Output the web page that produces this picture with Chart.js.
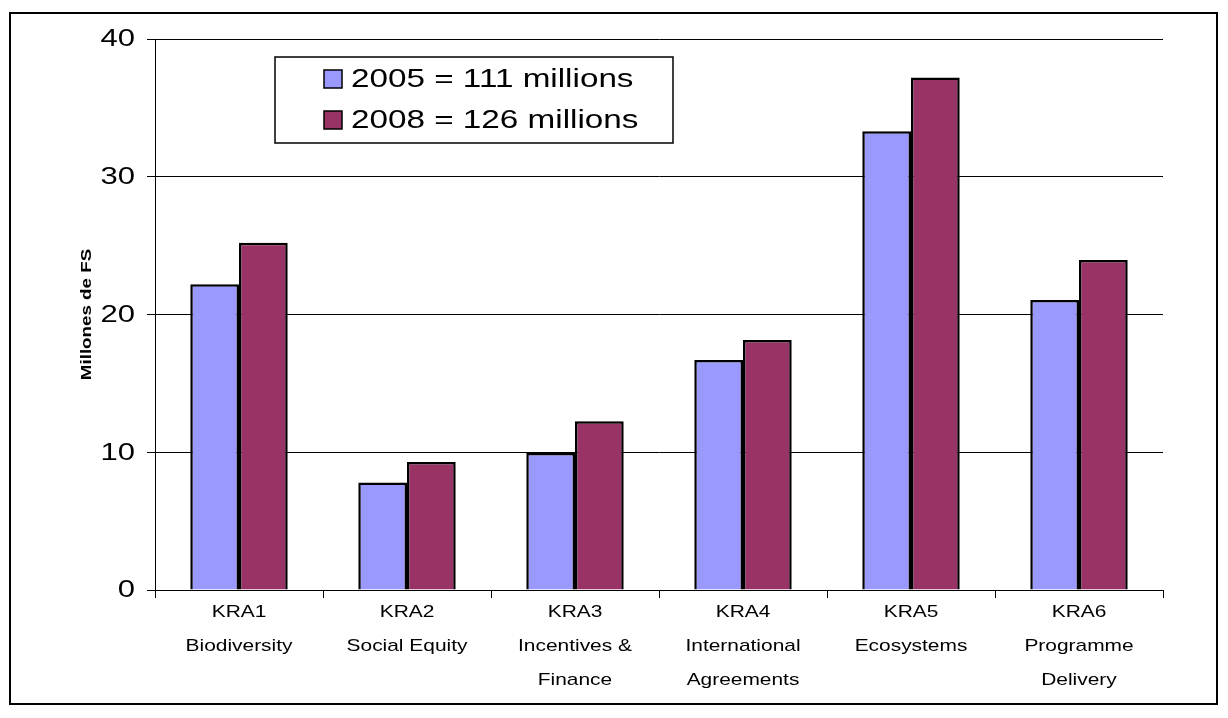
<!DOCTYPE html>
<html>
<head>
<meta charset="utf-8">
<script src="https://cdn.jsdelivr.net/npm/chart.js@4/dist/chart.umd.min.js"></script>
<style>
  body { margin: 0; background: #fff; }
  #wrap { position: absolute; left: 0; top: 0; width: 1228px; height: 718px; }
  #frame { position: absolute; left: 9px; top: 12px; width: 1209px; height: 693px; border: 2px solid #000; box-sizing: border-box; pointer-events: none; }
</style>
</head>
<body>
<div id="wrap">
  <canvas id="chart" width="1228" height="718"></canvas>
  <div id="frame"></div>
</div>
<script>
// data
var categories = [
  ['KRA1', 'Biodiversity'],
  ['KRA2', 'Social Equity'],
  ['KRA3', 'Incentives &', 'Finance'],
  ['KRA4', 'International', 'Agreements'],
  ['KRA5', 'Ecosystems'],
  ['KRA6', 'Programme', 'Delivery']
]
var series2005 = [22.2, 7.8, 9.95, 16.7, 33.3, 21.05]
var series2008 = [25.2, 9.3, 12.25, 18.15, 37.2, 23.95]
var seriesLabels = ['2005 = 111 millions', '2008 = 126 millions']
var yTicks = [0, 10, 20, 30, 40]
var yTitle = 'Millones de FS'

var font = '"Liberation Sans", Arial, sans-serif'

// the reference text is a bit wider than Arial, so stretch it sideways
function wideText(ctx, txt, x, y, align, stretch) {
  var w = ctx.measureText(txt).width * stretch
  var x0 = x
  if (align === 'center') x0 = x - w / 2
  if (align === 'right') x0 = x - w
  ctx.save()
  ctx.translate(x0, y)
  ctx.scale(stretch, 1)
  ctx.textAlign = 'left'
  ctx.fillText(txt, 0, 0)
  ctx.restore()
}

const textLayer = {
  id: 'textLayer',
  afterDraw: function(chart) {
    var ctx = chart.ctx
    var xs = chart.scales.x, ys = chart.scales.y
    ctx.save()
    ctx.fillStyle = '#000'
    ctx.textBaseline = 'middle'

    // y ticks
    ctx.font = '23px ' + font
    yTicks.forEach(function(v) {
      wideText(ctx, String(v), 135, ys.getPixelForValue(v) + 1, 'right', 1.35)
    })

    // x tick labels
    ctx.font = '17px ' + font
    categories.forEach(function(lines, i) {
      var cx = xs.getPixelForTick(i)
      lines.forEach(function(t, j) {
        wideText(ctx, t, cx, 612 + j * 34, 'center', 1.23)
      })
    })

    // y title
    ctx.font = 'bold 15px ' + font
    ctx.save()
    ctx.translate(87, (ys.top + ys.bottom) / 2)
    ctx.rotate(-Math.PI / 2)
    wideText(ctx, yTitle, 0, 0, 'center', 1.25)
    ctx.restore()

    // legend box
    var bx = 275, by = 57, bw = 398, bh = 86
    ctx.fillStyle = '#fff'
    ctx.fillRect(bx, by, bw, bh)
    ctx.strokeStyle = '#000'
    ctx.lineWidth = 1.5
    ctx.strokeRect(bx, by, bw, bh)
    ctx.font = '25px ' + font
    chart.data.datasets.forEach(function(ds, i) {
      var cy = by + 22 + i * 41
      ctx.fillStyle = ds.backgroundColor
      ctx.fillRect(324, cy - 9, 18, 18)
      ctx.strokeStyle = '#000'
      ctx.lineWidth = 1.5
      ctx.strokeRect(324, cy - 9, 18, 18)
      ctx.fillStyle = '#000'
      wideText(ctx, ds.label, 351, cy + 1, 'left', 1.33)
    })
    ctx.restore()
  }
}

const config = {
  type: 'bar',
  data: {
    labels: categories,
    datasets: [{
      label: seriesLabels[0],
      data: series2005,
      backgroundColor: '#9999FF',
      borderColor: '#000',
      borderWidth: 2.5
    }, {
      label: seriesLabels[1],
      data: series2008,
      backgroundColor: '#993366',
      borderColor: '#000',
      borderWidth: 2.5
    }]
  },
  options: {
    responsive: false,
    animation: false,
    events: [],
    layout: { padding: { left: 20, right: 65, top: 39, bottom: 0 } },
    categoryPercentage: 0.58,
    barPercentage: 1.0,
    plugins: {
      legend: { display: false },
      tooltip: { enabled: false }
    },
    scales: {
      x: {
        grid: { offset: true, drawOnChartArea: false, color: '#000', tickLength: 8, lineWidth: 1 },
        border: { color: '#000', width: 1 },
        ticks: { display: false },
        afterFit: function(scale) { scale.height = 718 - 590 }
      },
      y: {
        min: 0,
        max: 40,
        afterBuildTicks: function(scale) { scale.ticks = yTicks.map(function(v) { return { value: v } }) },
        grid: { color: '#000', tickLength: 8, lineWidth: 1 },
        border: { color: '#000', width: 1 },
        ticks: { display: false },
        afterFit: function(scale) { scale.width = 155 - 20 }
      }
    }
  },
  plugins: [textLayer]
}

var myChart = new Chart(document.getElementById('chart'), config)
</script>
</body>
</html>
